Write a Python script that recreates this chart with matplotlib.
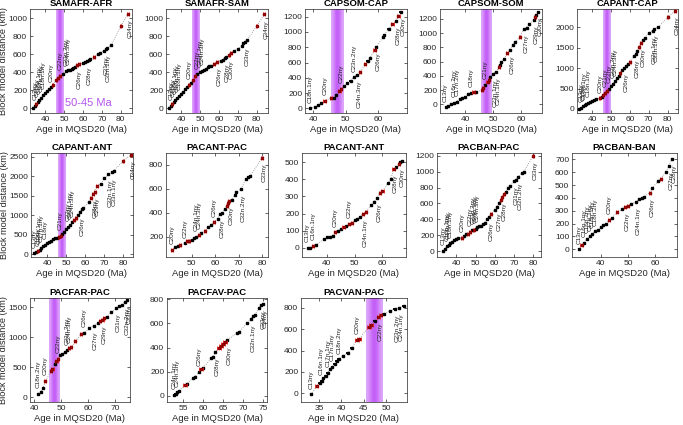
import matplotlib
matplotlib.use("Agg")
import matplotlib.pyplot as plt
import numpy as np

plt.rcParams['font.family'] = ['Liberation Sans', 'DejaVu Sans']

########## Data
# each panel: ages (Ma), distances (km), red flag, labels (index, chron, up/down)
p1_age = [33.5, 34.5, 35.2, 36, 37, 38, 39, 40, 41, 42, 43, 44, 46, 47, 48, 49.5, 51, 52, 53, 54, 55, 56, 57, 58, 60, 61, 62, 63, 64, 66, 68, 69, 71, 72, 73, 75, 80, 84]
p1_dist = [10, 30, 50, 70, 95, 120, 150, 170, 190, 210, 235, 255, 315, 335, 360, 385, 410, 420, 430, 440, 450, 460, 480, 490, 505, 515, 525, 535, 545, 570, 600, 615, 640, 655, 670, 700, 910, 1050]
p1_red = [0, 0, 1, 0, 0, 0, 0, 0, 0, 0, 0, 1, 1, 1, 1, 0, 0, 0, 0, 0, 0, 0, 1, 1, 0, 0, 0, 0, 0, 1, 0, 0, 0, 0, 0, 0, 1, 1]
p1_lab = [(1, 'C13ny', 'u'), (3, 'C15ny', 'u'), (4, 'C16n.1ny', 'u'), (5, 'C17n.1ny', 'u'), (6, 'C18n.1ny', 'u'), (10, 'C20ny', 'u'),
          (14, 'C22ny', 'u'), (16, 'C23n.2ny', 'u'), (17, 'C24n.3ny', 'u'),
          (22, 'C26ny', 'd'), (26, 'C28ny', 'd'), (32, 'C31ny', 'd'), (33, 'C32n.1ny', 'd'), (37, 'C34ny', 'd')]

p2_age = [33.5, 34.5, 35.2, 36, 37, 38, 39, 40, 41, 42, 43, 44, 45, 46.5, 47.5, 48.5, 50, 51, 52, 53, 54, 55, 56, 57.5, 59, 61, 62, 63, 64, 65.5, 66.5, 68, 70, 72, 73, 74, 75, 80, 84]
p2_dist = [0, 30, 45, 70, 95, 120, 140, 165, 185, 210, 235, 260, 280, 320, 360, 380, 400, 415, 430, 440, 455, 465, 470, 490, 515, 530, 540, 555, 565, 590, 610, 640, 660, 690, 720, 740, 760, 910, 1040]
p2_red = [0, 0, 1, 0, 0, 0, 0, 0, 0, 0, 0, 1, 0, 1, 1, 0, 0, 0, 0, 0, 0, 0, 0, 1, 1, 0, 0, 0, 0, 1, 1, 0, 0, 0, 0, 0, 0, 1, 1]
p2_lab = [(1, 'C13ny', 'u'), (3, 'C15ny', 'u'), (4, 'C16n.1ny', 'u'), (5, 'C17n.1ny', 'u'), (6, 'C18n.1ny', 'u'), (11, 'C20ny', 'u'),
          (15, 'C22ny', 'u'), (16, 'C23n.2ny', 'u'), (17, 'C24n.3ny', 'u'),
          (24, 'C26ny', 'd'), (27, 'C28ny', 'd'), (29, 'C30ny', 'd'), (35, 'C33ny', 'd'), (38, 'C34ny', 'd')]

p3_age = [39, 40.5, 41.5, 42.5, 43.5, 45.5, 46.3, 47, 48, 48.5, 49.5, 50.5, 51.5, 52.5, 53.5, 54.5, 56, 56.8, 57.5, 59, 59.5, 61.5, 62, 63.3, 64.5, 65.5, 66.3, 67]
p3_dist = [0, 20, 40, 70, 100, 140, 140, 170, 230, 260, 290, 330, 360, 410, 440, 470, 580, 620, 660, 760, 800, 930, 960, 1040, 1100, 1140, 1210, 1260]
p3_red = [0, 0, 0, 0, 1, 1, 0, 0, 1, 1, 0, 0, 0, 0, 0, 1, 1, 0, 0, 1, 0, 0, 0, 0, 1, 0, 1, 0]
p3_lab = [(0, 'C18n.1ny', 'u'), (4, 'C20ny', 'u'), (9, 'C22ny', 'u'), (13, 'C23n.2ny', 'u'),
          (14, 'C24n.3ny', 'd'), (20, 'C26ny', 'd'), (25, 'C28ny', 'd'), (27, 'C30ny', 'd')]

p4_age = [33, 34, 35, 36, 37, 38, 39, 40, 41, 42, 43, 44, 46, 46.5, 47, 48, 48.5, 49, 50, 51, 52, 52.5, 53, 54, 55, 56, 57, 58, 59.5, 61, 62, 63, 64.5, 65, 65.5, 66]
p4_dist = [-40, -20, 0, 20, 40, 70, 90, 110, 140, 160, 170, 180, 200, 230, 280, 320, 350, 380, 430, 460, 520, 560, 600, 640, 720, 760, 840, 870, 950, 1060, 1080, 1130, 1180, 1230, 1260, 1300]
p4_red = [0, 0, 0, 0, 0, 0, 0, 0, 0, 0, 1, 0, 1, 1, 0, 1, 1, 0, 0, 0, 1, 0, 0, 0, 1, 0, 0, 0, 1, 0, 0, 0, 0, 1, 0, 0]
p4_lab = [(0, 'C13ny', 'u'), (3, 'C16n.2ny', 'u'), (4, 'C17n.2ny', 'u'), (9, 'C18ny', 'u'), (14, 'C21ny', 'u'),
          (18, 'C23n.1ny', 'd'), (19, 'C24n.1ny', 'd'), (25, 'C26ny', 'd'), (29, 'C27ny', 'd'), (32, 'C29ny', 'd'), (35, 'C30ny', 'd')]

p5_age = [33, 34, 35, 36, 37, 38, 39, 40, 41, 42, 44, 45, 46, 47, 48, 49, 50, 51, 52, 53, 54, 55, 56, 57, 58, 59, 60, 62, 63, 64, 65, 66, 67, 68, 70, 72, 73, 75, 80, 84]
p5_dist = [0, 30, 60, 90, 120, 150, 180, 200, 220, 240, 260, 300, 340, 400, 450, 500, 560, 620, 680, 750, 800, 880, 950, 1000, 1050, 1100, 1150, 1300, 1350, 1420, 1520, 1620, 1700, 1750, 1850, 1920, 1970, 2000, 2250, 2400]
p5_red = [0, 0, 0, 0, 0, 0, 0, 0, 0, 0, 1, 0, 1, 1, 1, 0, 0, 0, 0, 0, 0, 1, 0, 0, 0, 0, 1, 0, 0, 0, 1, 1, 0, 0, 0, 0, 0, 0, 1, 1]
p5_lab = [(1, 'C13ny', 'u'), (2, 'C15ny', 'u'), (3, 'C16n.1ny', 'u'), (5, 'C18n.1ny', 'u'), (10, 'C20ny', 'u'),
          (13, 'C21ny', 'u'), (15, 'C22ny', 'u'), (17, 'C23n.2ny', 'u'), (18, 'C24n.3ny', 'u'),
          (23, 'C26ny', 'd'), (28, 'C28ny', 'd'), (31, 'C30ny', 'd'), (35, 'C32n.1ny', 'd'), (36, 'C33n.1ny', 'd'), (39, 'C34ny', 'd')]

p6_age = [33, 34, 35, 36, 37, 38, 39, 40, 41, 42, 43, 44, 45, 46, 47, 48, 49, 50, 51, 52, 53, 54, 55, 56, 57, 58, 59, 62, 63, 64, 65, 66, 68, 70, 72, 74, 75, 80, 84]
p6_dist = [20, 50, 80, 120, 160, 200, 250, 290, 320, 350, 380, 410, 430, 450, 470, 520, 580, 650, 700, 760, 820, 870, 920, 1000, 1080, 1150, 1200, 1350, 1450, 1550, 1600, 1750, 1800, 1950, 2050, 2100, 2150, 2400, 2550]
p6_red = [0, 0, 1, 0, 0, 0, 0, 0, 0, 0, 0, 0, 0, 1, 1, 0, 0, 0, 0, 0, 0, 1, 1, 0, 0, 0, 0, 0, 1, 1, 1, 1, 0, 0, 0, 0, 0, 1, 1]
p6_lab = [(0, 'C13ny', 'u'), (2, 'C15ny', 'u'), (3, 'C16n.1ny', 'u'), (4, 'C17n.1ny', 'u'), (6, 'C18ny', 'u'), (14, 'C21ny', 'u'),
          (18, 'C22ny', 'u'), (19, 'C23n.1ny', 'u'), (20, 'C24n.3ny', 'u'),
          (24, 'C26ny', 'd'), (29, 'C28ny', 'd'), (30, 'C29ny', 'd'), (34, 'C32n.1ny', 'd'), (35, 'C33n.1ny', 'd'), (38, 'C34ny', 'd')]

p7_age = [41.5, 43, 44, 45, 47, 48, 49, 50, 51, 52, 53, 54, 55.5, 57, 58, 59.5, 61, 62, 63, 64, 65, 65.5, 66, 67, 68.5, 69, 71, 73, 74, 75, 80]
p7_dist = [90, 110, 120, 130, 145, 160, 165, 175, 185, 200, 215, 230, 250, 280, 300, 320, 350, 390, 400, 430, 460, 480, 500, 510, 550, 570, 600, 680, 700, 710, 860]
p7_red = [1, 0, 0, 1, 0, 1, 1, 0, 0, 0, 1, 0, 1, 0, 0, 1, 0, 0, 0, 0, 1, 1, 1, 0, 0, 0, 0, 0, 0, 0, 1]
p7_lab = [(0, 'C20ny', 'u'), (4, 'C22ny', 'u'), (9, 'C24n.1ny', 'u'), (10, 'C24n.3ny', 'u'), (15, 'C26ny', 'u'),
          (17, 'C28ny', 'd'), (22, 'C30ny', 'd'), (26, 'C32n.2ny', 'd'), (30, 'C33ny', 'd')]

p8_age = [33, 34, 35, 36, 39, 40, 41, 42, 43, 44, 45, 46, 47, 48, 49, 50, 51, 52, 53, 54, 56, 57, 58, 59, 60, 62, 63, 64, 65, 66, 66.5, 67]
p8_dist = [0, 0, 10, 15, 50, 60, 65, 70, 90, 100, 110, 120, 125, 140, 145, 160, 170, 180, 200, 210, 250, 270, 290, 320, 330, 380, 400, 460, 470, 490, 500, 510]
p8_red = [0, 0, 1, 0, 0, 0, 0, 0, 1, 0, 0, 1, 0, 1, 1, 0, 0, 0, 1, 1, 0, 0, 0, 1, 1, 0, 0, 1, 0, 1, 0, 0]
p8_lab = [(0, 'C13ny', 'u'), (2, 'C16n.1ny', 'u'), (8, 'C20ny', 'u'), (13, 'C22ny', 'u'),
          (18, 'C24n.1ny', 'd'), (22, 'C26ny', 'd'), (27, 'C28ny', 'd'), (30, 'C30ny', 'd')]

p9_age = [33, 34, 35, 36, 37, 38, 39, 40, 41, 43, 44, 45, 46, 47, 48, 49, 50, 51, 52, 53, 54, 55, 56, 57, 58, 60, 61, 62, 63, 64, 65, 66, 67, 68, 70, 71, 72, 74, 75, 80]
p9_dist = [0, 30, 60, 80, 100, 120, 140, 150, 160, 170, 190, 210, 220, 240, 260, 270, 280, 300, 310, 320, 340, 350, 400, 430, 470, 520, 560, 600, 640, 680, 720, 750, 800, 820, 880, 900, 930, 980, 1000, 1200]
p9_red = [0, 0, 0, 0, 0, 0, 0, 0, 0, 1, 0, 0, 1, 1, 0, 1, 0, 0, 0, 0, 0, 0, 0, 0, 1, 0, 0, 0, 1, 1, 1, 0, 0, 0, 0, 0, 0, 0, 0, 1]
p9_lab = [(0, 'C13ny', 'u'), (2, 'C16n.1ny', 'u'), (3, 'C17n.1ny', 'u'), (4, 'C18n.1ny', 'u'), (9, 'C20ny', 'u'),
          (13, 'C22ny', 'u'), (15, 'C23n.2ny', 'u'), (16, 'C24n.1ny', 'u'), (17, 'C24n.3ny', 'u'),
          (23, 'C26ny', 'd'), (26, 'C27ny', 'd'), (29, 'C28ny', 'd'), (34, 'C31ny', 'd'), (36, 'C32n.2ny', 'd'), (39, 'C33ny', 'd')]

p10_age = [32, 33, 34, 35, 36, 37, 38, 39, 40, 41, 42, 43, 44, 46, 48, 49, 50, 51, 53, 54, 55, 56, 58, 59, 61, 62, 64, 65, 66]
p10_dist = [0, 30, 50, 80, 100, 120, 140, 150, 170, 190, 200, 230, 240, 290, 310, 330, 340, 350, 370, 390, 400, 410, 440, 480, 530, 550, 600, 650, 700]
p10_red = [0, 1, 0, 0, 0, 0, 0, 0, 0, 0, 0, 1, 0, 1, 0, 1, 1, 0, 0, 0, 0, 0, 1, 0, 0, 1, 0, 0, 0]
p10_lab = [(0, 'C13ny', 'u'), (2, 'C16n.1ny', 'u'), (3, 'C16n.2ny', 'u'), (4, 'C17n.1ny', 'u'), (5, 'C18n.1ny', 'u'), (6, 'C18n.2ny', 'u'),
           (11, 'C20ny', 'u'), (15, 'C22ny', 'd'), (18, 'C24n.1ny', 'd'), (22, 'C26ny', 'd'), (27, 'C27ny', 'd'), (28, 'C28ny', 'd')]

p11_age = [41.5, 42.5, 43.3, 44.2, 46.3, 46.8, 47.6, 48.3, 48.8, 49.5, 50.5, 51.5, 52.2, 53, 53.8, 55.3, 57.5, 58.5, 60.5, 62, 63.5, 64.5, 65.3, 66, 67, 68.5, 70.5, 71.5, 72.5, 73.5, 74.5]
p11_dist = [60, 90, 150, 270, 440, 470, 550, 610, 640, 700, 720, 760, 780, 810, 830, 930, 1050, 1070, 1150, 1190, 1230, 1260, 1290, 1310, 1340, 1410, 1480, 1510, 1540, 1580, 1610]
p11_red = [0, 0, 0, 1, 1, 1, 0, 1, 1, 0, 0, 0, 0, 1, 1, 1, 1, 0, 0, 0, 0, 1, 1, 1, 0, 0, 0, 0, 0, 0, 0]
p11_lab = [(0, 'C18n.2ny', 'u'), (3, 'C20ny', 'u'), (8, 'C22ny', 'u'), (12, 'C23n.2ny', 'u'), (13, 'C24n.3ny', 'u'), (17, 'C26ny', 'u'),
           (19, 'C27ny', 'd'), (22, 'C29ny', 'd'), (26, 'C31ny', 'd'), (29, 'C32n.2ny', 'd'), (30, 'C33ny', 'd')]

p12_age = [52.8, 53.2, 53.6, 54, 55.5, 56, 57.5, 58, 59, 59.5, 60, 62, 62.5, 63, 64, 64.5, 65, 65.5, 66, 68.5, 69, 71, 72, 72.5, 73, 74, 74.5, 75]
p12_dist = [10, 20, 30, 40, 90, 100, 150, 160, 200, 220, 230, 310, 320, 360, 400, 410, 430, 450, 460, 520, 530, 600, 640, 660, 670, 730, 750, 760]
p12_red = [0, 0, 0, 0, 1, 0, 0, 0, 0, 1, 0, 0, 0, 0, 1, 1, 1, 1, 0, 0, 0, 0, 0, 0, 0, 0, 0, 0]
p12_lab = [(0, 'C24n.1ny', 'u'), (2, 'C24n.3ny', 'u'), (8, 'C26ny', 'u'),
           (13, 'C28ny', 'd'), (18, 'C30ny', 'd'), (22, 'C32n.1ny', 'd'), (26, 'C33ny', 'd'), (27, 'C34ny', 'd')]

p13_age = [33.3, 34.5, 35.2, 35.6, 36, 36.5, 37, 37.5, 38, 38.5, 39, 39.5, 40.5, 41.5, 42.3, 43.5, 44, 46.2, 46.6, 47.5, 48.3, 48.8, 49.5, 51, 52, 53, 54]
p13_dist = [-10, 70, 100, 120, 140, 160, 190, 230, 250, 270, 300, 320, 350, 380, 420, 500, 510, 620, 640, 680, 710, 730, 740, 770, 790, 800, 820]
p13_red = [0, 1, 0, 0, 0, 0, 0, 0, 0, 0, 0, 0, 0, 0, 0, 1, 1, 1, 1, 0, 1, 1, 0, 0, 0, 0, 0]
p13_lab = [(0, 'C13ny', 'u'), (3, 'C16n.1ny', 'u'), (6, 'C17n.1ny', 'u'), (8, 'C17n.3ny', 'u'), (11, 'C18n.2ny', 'u'), (15, 'C20ny', 'u'),
           (20, 'C22ny', 'd'), (24, 'C23n.2ny', 'd'), (25, 'C24n.1ny', 'd')]
##############################################

W, H = 683., 425.
fig = plt.figure(figsize=(6.83, 4.25), dpi=100)

def box(x0, x1, y0, y1):
    return [x0 / W, 1 - y1 / H, (x1 - x0) / W, (y1 - y0) / H]

# title, data, axes box (px), xlim, ylim, xticks, yticks, band, ylabel
panels = [
    ('SAMAFR-AFR', p1_age, p1_dist, p1_red, p1_lab, box(30, 132, 9, 113), (32, 86), (-50, 1100), [40, 50, 60, 70, 80], range(0, 1001, 200), True, True),
    ('SAMAFR-SAM', p2_age, p2_dist, p2_red, p2_lab, box(166, 268, 9, 113), (32, 86), (-50, 1100), [40, 50, 60, 70, 80], range(0, 1001, 200), True, False),
    ('CAPSOM-CAP', p3_age, p3_dist, p3_red, p3_lab, box(305, 407, 9, 113), (37.4, 69), (-60, 1300), [40, 50, 60], range(0, 1201, 200), True, False),
    ('CAPSOM-SOM', p4_age, p4_dist, p4_red, p4_lab, box(440, 542, 9, 113), (31, 67.5), (-120, 1340), [40, 50, 60], range(0, 1201, 200), True, False),
    ('CAPANT-CAP', p5_age, p5_dist, p5_red, p5_lab, box(577, 678, 9, 113), (32, 85.5), (-100, 2450), [40, 50, 60, 70, 80], range(0, 2001, 500), True, False),
    ('CAPANT-ANT', p6_age, p6_dist, p6_red, p6_lab, box(31, 133, 153, 257), (31.5, 85), (-70, 2600), [40, 50, 60, 70, 80], range(0, 2501, 500), True, True),
    ('PACANT-PAC', p7_age, p7_dist, p7_red, p7_lab, box(166, 268, 153, 257), (39, 82.5), (30, 900), [50, 60, 70, 80], range(200, 801, 200), False, False),
    ('PACANT-ANT', p8_age, p8_dist, p8_red, p8_lab, box(302, 406, 153, 257), (31, 68.5), (-55, 555), [40, 50, 60], range(0, 501, 100), False, False),
    ('PACBAN-PAC', p9_age, p9_dist, p9_red, p9_lab, box(437, 541, 153, 257), (30, 84), (-75, 1235), [40, 50, 60, 70, 80], range(0, 1201, 200), False, False),
    ('PACBAN-BAN', p10_age, p10_dist, p10_red, p10_lab, box(572, 677, 153, 257), (29.5, 68), (-60, 750), [40, 50, 60], range(0, 701, 100), False, False),
    ('PACFAR-PAC', p11_age, p11_dist, p11_red, p11_lab, box(30, 130, 298, 402), (38.5, 75.5), (-80, 1650), [40, 50, 60, 70], range(0, 1501, 500), True, True),
    ('PACFAV-PAC', p12_age, p12_dist, p12_red, p12_lab, box(167, 267, 298, 402), (51, 76), (-50, 810), [55, 60, 65, 70, 75], range(0, 801, 200), False, False),
    ('PACVAN-PAC', p13_age, p13_dist, p13_red, p13_lab, box(301, 407, 298, 402), (31, 54.7), (-80, 890), [35, 40, 45, 50], range(0, 801, 200), True, False),
]

# purple band 45.5-49.5 Ma, soft edges
prof = np.linspace(-1, 1, 60)
alph = 0.5 + 0.4 * np.cos(prof * np.pi / 2) ** 2
band_rgba = np.zeros((1, 60, 4))
band_rgba[0, :, 0] = 0.74
band_rgba[0, :, 1] = 0.30
band_rgba[0, :, 2] = 0.97
band_rgba[0, :, 3] = alph

for (title, age, dist, red, labs, pos, xl, yl, xt, yt, band, ylab) in panels:
    ax = fig.add_axes(pos)
    age = np.array(age, float)
    dist = np.array(dist, float)
    red = np.array(red, bool)
    if band:
        ax.imshow(band_rgba, extent=[45.6, 49.4, yl[0], yl[1]], aspect='auto', zorder=0, interpolation='bilinear')
    ax.plot(age, dist, ls=':', color='#888888', lw=0.6, zorder=1)
    ax.errorbar(age[~red], dist[~red], xerr=0.35, fmt='s', color='black', ms=1.6, elinewidth=1.3, capsize=0, zorder=3)
    ax.errorbar(age[red], dist[red], xerr=0.4, fmt='s', color='#e8201a', mfc='#e8201a', mec='#8a0000', ms=2.0, elinewidth=1.0,
                capsize=1.2, capthick=0.6, zorder=4)
    for (i, name, d) in labs:
        if d == 'u':
            ax.annotate(name, (age[i], dist[i]), xytext=(0, 4), textcoords='offset points', rotation=90,
                        ha='center', va='bottom', fontsize=4.6, color='#222222', zorder=5)
        else:
            ax.annotate(name, (age[i], dist[i]), xytext=(1.5, -4), textcoords='offset points', rotation=90,
                        ha='center', va='top', fontsize=4.6, color='#222222', zorder=5)
    ax.set_xlim(xl)
    ax.set_ylim(yl)
    ax.set_xticks(xt)
    ax.set_yticks(list(yt))
    ax.tick_params(direction='in', length=2, width=0.5, labelsize=6, pad=2, top=True, right=True, colors='#262626')
    for s in ax.spines.values():
        s.set_linewidth(0.5)
        s.set_color('#262626')
    ax.set_title(title, fontsize=6.8, fontweight='bold', pad=2)
    ax.set_xlabel('Age in MQSD20 (Ma)', fontsize=6.8, labelpad=1.5, color='#262626')
    if ylab:
        ax.set_ylabel('Block model distance (km)', fontsize=6.6, color='#262626')
        ax.yaxis.set_label_coords(-0.215, 0.5)
    if title == 'SAMAFR-AFR':
        ax.text(50.5, 60, '50-45 Ma', color='#b455ee', fontsize=8, va='center')

fig.savefig('out.png', dpi=100)
